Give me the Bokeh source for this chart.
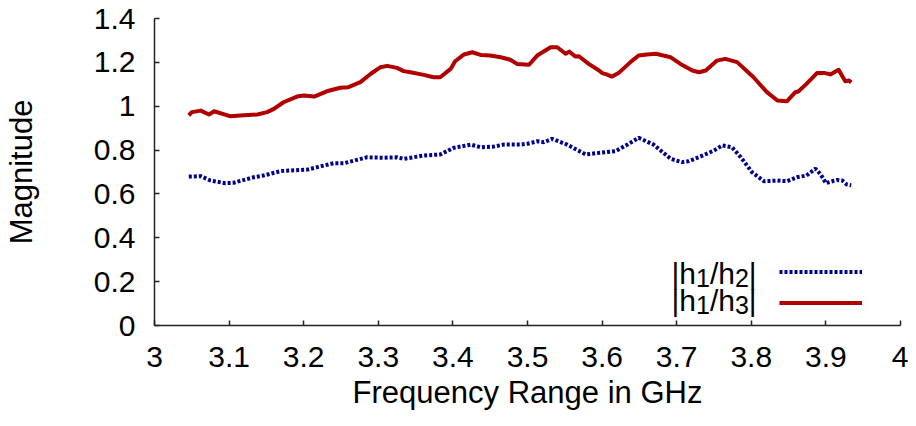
from bokeh.plotting import figure
from bokeh.models import (FixedTicker, NumeralTickFormatter, Legend, LegendItem, Label, Range1d)
from bokeh.core.properties import value
from bokeh.embed import file_html
from bokeh.resources import INLINE

# ---- data ----
freq_h3 = [3.046, 3.050, 3.062, 3.073, 3.080, 3.102, 3.115, 3.138, 3.151, 3.160,
           3.173, 3.191, 3.200, 3.214, 3.231, 3.249, 3.260, 3.276, 3.290, 3.303,
           3.312, 3.325, 3.334, 3.343, 3.361, 3.374, 3.383, 3.397, 3.403, 3.415,
           3.426, 3.437, 3.450, 3.464, 3.477, 3.486, 3.502, 3.513, 3.531, 3.540,
           3.551, 3.556, 3.564, 3.569, 3.582, 3.596, 3.600, 3.606, 3.613, 3.622,
           3.638, 3.649, 3.660, 3.672, 3.692, 3.705, 3.721, 3.730, 3.739, 3.754,
           3.765, 3.781, 3.803, 3.821, 3.835, 3.848, 3.859, 3.863, 3.874, 3.888,
           3.899, 3.906, 3.917, 3.926, 3.931, 3.934]
mag_h1_h3 = [0.958, 0.973, 0.980, 0.962, 0.977, 0.954, 0.958, 0.962, 0.973, 0.988,
             1.018, 1.044, 1.049, 1.044, 1.068, 1.084, 1.087, 1.110, 1.148, 1.178,
             1.184, 1.175, 1.160, 1.155, 1.143, 1.132, 1.132, 1.170, 1.205, 1.236,
             1.246, 1.234, 1.231, 1.223, 1.212, 1.193, 1.189, 1.231, 1.269, 1.269,
             1.239, 1.249, 1.227, 1.228, 1.193, 1.163, 1.151, 1.145, 1.135, 1.151,
             1.201, 1.231, 1.236, 1.239, 1.223, 1.193, 1.163, 1.155, 1.163, 1.208,
             1.216, 1.201, 1.132, 1.064, 1.026, 1.023, 1.064, 1.067, 1.102, 1.151,
             1.151, 1.145, 1.166, 1.114, 1.117, 1.108]

freq_h2 = [3.046, 3.062, 3.075, 3.095, 3.106, 3.133, 3.146, 3.169, 3.182, 3.205,
           3.218, 3.240, 3.254, 3.285, 3.307, 3.325, 3.334, 3.361, 3.383, 3.401,
           3.424, 3.437, 3.455, 3.468, 3.490, 3.500, 3.513, 3.522, 3.533, 3.553,
           3.578, 3.593, 3.618, 3.634, 3.649, 3.669, 3.692, 3.707, 3.716, 3.732,
           3.750, 3.761, 3.774, 3.786, 3.801, 3.817, 3.835, 3.848, 3.861, 3.874,
           3.886, 3.893, 3.900, 3.915, 3.922, 3.928, 3.934]
mag_h1_h2 = [0.679, 0.681, 0.661, 0.649, 0.651, 0.676, 0.684, 0.704, 0.707, 0.711,
             0.722, 0.740, 0.740, 0.767, 0.765, 0.767, 0.760, 0.775, 0.780, 0.810,
             0.825, 0.813, 0.816, 0.825, 0.825, 0.829, 0.840, 0.836, 0.851, 0.825,
             0.780, 0.786, 0.795, 0.825, 0.856, 0.825, 0.760, 0.745, 0.749, 0.771,
             0.798, 0.821, 0.813, 0.767, 0.699, 0.658, 0.661, 0.658, 0.676, 0.684,
             0.715, 0.689, 0.649, 0.664, 0.661, 0.643, 0.640]

x_ticks = [3.0, 3.1, 3.2, 3.3, 3.4, 3.5, 3.6, 3.7, 3.8, 3.9, 4.0]
y_ticks = [0.0, 0.2, 0.4, 0.6, 0.8, 1.0, 1.2, 1.4]

FONT = "Liberation Sans"
RED = "#b00000"
BLUE = "#00008f"
AXIS = "#222222"

p = figure(width=908, height=418, output_backend="svg", toolbar_location=None,
           x_range=Range1d(3, 4), y_range=Range1d(0, 1.4),
           min_border_left=154, min_border_right=8, min_border_top=18, min_border_bottom=93)
p.outline_line_color = None
p.grid.visible = False
p.background_fill_color = "white"
p.border_fill_color = "white"

blue_r = p.line(freq_h2, mag_h1_h2, line_color=BLUE, line_width=4, line_dash="3 2")
red_r = p.line(freq_h3, mag_h1_h3, line_color=RED, line_width=4, line_join="round")

for ax in (p.xaxis[0], p.yaxis[0]):
    ax.axis_line_color = AXIS
    ax.axis_line_width = 1.5
    ax.major_tick_line_color = AXIS
    ax.major_tick_line_width = 1.5
    ax.major_tick_in = 5
    ax.major_tick_out = 0
    ax.minor_tick_line_color = None
    ax.major_label_text_font = FONT
    ax.major_label_text_font_size = "30px"
    ax.major_label_text_color = "black"
    ax.axis_label_text_font = FONT
    ax.axis_label_text_font_size = "31px"
    ax.axis_label_text_font_style = "normal"
    ax.axis_label_text_color = "black"
    ax.formatter = NumeralTickFormatter(format="0.[0]")

p.xaxis[0].ticker = FixedTicker(ticks=x_ticks)
p.yaxis[0].ticker = FixedTicker(ticks=y_ticks)
p.xaxis[0].axis_label = "Frequency Range in GHz"
p.yaxis[0].axis_label = "Magnitude"
p.xaxis[0].major_label_standoff = 21
p.xaxis[0].axis_label_standoff = 5
p.yaxis[0].major_label_standoff = 19
p.yaxis[0].axis_label_standoff = 52

legend = Legend(items=[LegendItem(label=value(" "), renderers=[blue_r]),
                       LegendItem(label=value(" "), renderers=[red_r])],
                location=(625, 7), glyph_width=83, glyph_height=31, spacing=0,
                padding=0, margin=0, label_standoff=0, label_width=1, label_height=1,
                label_text_font_size="1px", border_line_color=None,
                background_fill_alpha=0)
p.add_layout(legend, "center")

# legend texts with subscripts
ADV = {"|": 0.26, "h": 0.556, "/": 0.278, "1": 0.556, "2": 0.556, "3": 0.556}

def add_text(parts, x0, y0):
    x = x0
    for txt, sub in parts:
        size = 25 if sub else 30
        p.add_layout(Label(x=x, y=y0 - (4 if sub else 0), x_units="screen", y_units="screen",
                           text=txt, text_font=FONT, text_font_size=f"{size}px",
                           text_baseline="alphabetic", text_align="left", text_color="black"))
        x += sum(ADV[c] for c in txt) * size

add_text([("|h", False), ("1", True), ("/h", False), ("2", True), ("|", False)], 517, 52)
add_text([("|h", False), ("1", True), ("/h", False), ("3", True), ("|", False)], 517, 25)

open("out.html", "w").write(file_html(p, INLINE))
